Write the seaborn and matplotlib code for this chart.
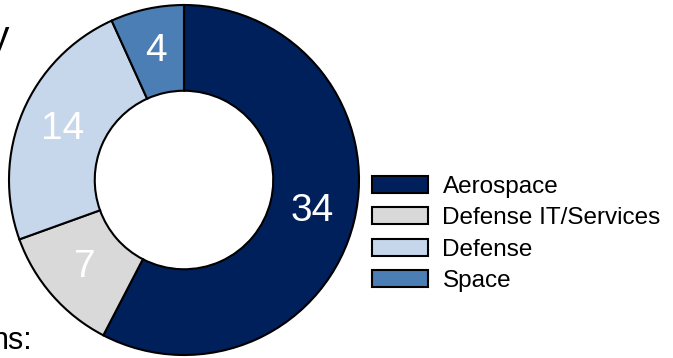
import matplotlib
matplotlib.use("Agg")
import matplotlib.pyplot as plt
import numpy as np
import seaborn as sns

# data
categories = ["Aerospace", "Defense IT/Services", "Defense", "Space"]
counts = [34, 7, 14, 4]
colors = ["#00205B", "#D9D9D9", "#C6D6EB", "#4A7EB4"]

sns.set_theme(style="white")
plt.rcParams["font.family"] = ["Liberation Sans", "DejaVu Sans"]
plt.rcParams["text.color"] = "black"

fig = plt.figure(figsize=(6.73, 3.58), dpi=100)
# donut axes placed in pixel terms: centre ~(184,180), radius ~175
ax = fig.add_axes([9 / 673, 3 / 358, 350 / 673, 350 / 358])

wedges, _ = ax.pie(
    counts,
    colors=colors,
    startangle=90,
    counterclock=False,
    radius=1,
    wedgeprops=dict(width=0.49, edgecolor="black", linewidth=1.5),
)

# value labels in the middle of the ring
for w, v in zip(wedges, counts):
    mid = np.deg2rad((w.theta1 + w.theta2) / 2)
    r = 0.755
    ax.text(r * np.cos(mid), r * np.sin(mid), str(v), color="white",
            fontsize=28, ha="center", va="center")

ax.set_xlim(-1.0, 1.0)
ax.set_ylim(-1.0, 1.0)
ax.set_aspect("equal")
ax.axis("off")
for w in wedges:
    w.set_clip_on(False)

fig.legend(
    wedges, categories,
    loc="center left",
    bbox_to_anchor=(372 / 673, 1 - 234 / 358),
    frameon=False,
    fontsize=17.5,
    labelcolor="black",
    handlelength=2.3,
    handleheight=0.7,
    handletextpad=0.6,
    labelspacing=0.38,
    borderpad=0,
    borderaxespad=0,
)

# fragments of surrounding slide text
fig.text(9 / 673, 1 - 48 / 358, "y", fontsize=28, ha="right", va="baseline")
fig.text(-8 / 673, 1 - 349 / 358, "ns:", fontsize=22, ha="left", va="baseline")

fig.savefig("out.png", dpi=100)
